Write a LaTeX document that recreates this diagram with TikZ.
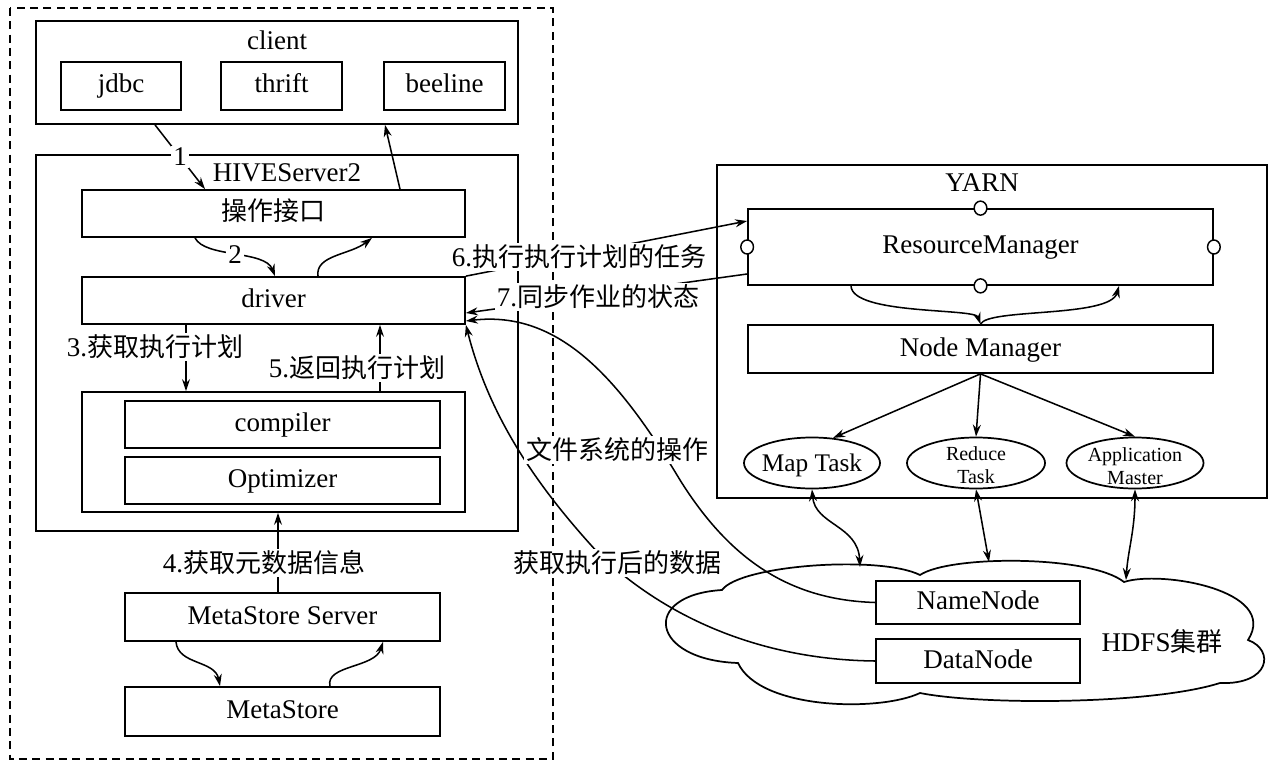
\documentclass[tikz,border=0pt]{standalone}
\usepackage{fontspec}
\setmainfont{Liberation Serif}
\newfontfamily\cjk{Noto Sans CJK SC}
\usetikzlibrary{arrows.meta,shapes.geometric}
\newcommand\zh[1]{{\cjk\fontsize{19.5pt}{23pt}\selectfont #1}}
\begin{document}
\begin{tikzpicture}[x=0.75pt,y=-0.75pt, line width=1.3pt,
  rbox/.style={draw, rectangle, inner sep=0pt, text height=13pt, text depth=2.5pt, font=\fontsize{20.25pt}{24pt}\selectfont},
  ell/.style={draw, ellipse, inner sep=0pt},
  txt/.style={inner sep=1pt, font=\fontsize{20.25pt}{24pt}\selectfont},
  lbl/.style={fill=white, inner sep=1.5pt, font=\fontsize{20.25pt}{24pt}\selectfont},
  arr/.style={-{Stealth[length=9pt,width=6pt]}, line width=1.15pt},
  darr/.style={{Stealth[length=9pt,width=6pt]}-{Stealth[length=9pt,width=6pt]}, line width=1.15pt},
  circ/.style={draw, fill=white, ellipse, inner sep=0pt, minimum width=9.5pt, minimum height=10.5pt, line width=1.1pt}
]
\useasboundingbox (0,0) rectangle (1280,773);
% outer dashed frame
\draw[dash pattern=on 6pt off 4pt] (10,8) rectangle (553,759);

% client
\node[rbox, minimum width=361.5pt, minimum height=77.25pt] (client) at (277,72.5) {};
\node[txt] (clientt) at (277,40) {client};
\node[rbox, minimum width=90pt, minimum height=36pt] (jdbc) at (121,86) {jdbc};
\node[rbox, minimum width=90.75pt, minimum height=36pt] (thrift) at (281.5,86) {thrift};
\node[rbox, minimum width=90.75pt, minimum height=36pt] (beeline) at (444.5,86) {beeline};

% HIVEServer2
\node[rbox, minimum width=361.5pt, minimum height=282pt] (hive) at (277,343) {};
\node[txt] (hivet) at (287,173) {HIVEServer2};
\node[rbox, minimum width=287.25pt, minimum height=35.25pt] (ops) at (273.5,213.5) {\zh{操作接口}};
\node[rbox, minimum width=287.25pt, minimum height=35.25pt] (driver) at (273.5,300.5) {driver};
\node[rbox, minimum width=287.25pt, minimum height=90pt] (comp) at (273.5,452) {};
\node[rbox, minimum width=236.25pt, minimum height=35.25pt] (compiler) at (282.5,424.5) {compiler};
\node[rbox, minimum width=236.25pt, minimum height=35.25pt] (optim) at (282.5,480.5) {Optimizer};

% metastore
\node[rbox, minimum width=236.25pt, minimum height=36pt] (mss) at (282.5,617) {MetaStore Server};
\node[rbox, minimum width=236.25pt, minimum height=36.75pt] (ms) at (282.5,711.5) {MetaStore};

% YARN
\node[rbox, minimum width=412.5pt, minimum height=249.75pt] (yarn) at (992,331.5) {};
\node[txt] (yarnt) at (982,183) {YARN};
\node[rbox, minimum width=348.75pt, minimum height=57pt] (rm) at (980.5,247) {ResourceManager};
\node[rbox, minimum width=348.75pt, minimum height=36pt] (nm) at (980.5,349) {Node Manager};
\node[circ] (c1) at (rm.north) {};
\node[circ] (c2) at (rm.south) {};
\node[circ] (c3) at (rm.west) {};
\node[circ] (c4) at (rm.east) {};
\node[ell, minimum width=102pt, minimum height=38.25pt] (map) at (812,463) {};
\node[inner sep=0pt, font=\fontsize{19pt}{22pt}\selectfont] (mapt) at (812,465) {Map Task};
\node[ell, minimum width=103.5pt, minimum height=38.25pt] (red) at (976,463) {};
\node[inner sep=0pt, align=center, font=\fontsize{15pt}{17.5pt}\selectfont] (redt) at (976,465) {Reduce\\Task};
\node[ell, minimum width=102.75pt, minimum height=38.25pt] (app) at (1135,463) {};
\node[inner sep=0pt, align=center, font=\fontsize{15pt}{17.5pt}\selectfont] (appt) at (1135,466) {Application\\Master};

% HDFS cloud
\draw (722,590) .. controls (740,565) and (880,555) .. (920,575)
  .. controls (950,555) and (1090,555) .. (1124,582)
  .. controls (1160,570) and (1280,590) .. (1248,640)
  .. controls (1275,650) and (1270,685) .. (1220,683)
  .. controls (1150,705) and (980,705) .. (920,693)
  .. controls (880,712) and (760,710) .. (738,663)
  .. controls (650,660) and (640,595) .. cycle;
\node[rbox, minimum width=153pt, minimum height=32.25pt] (nn) at (978,602.5) {NameNode};
\node[rbox, minimum width=153pt, minimum height=33pt] (dn) at (978,661) {DataNode};
\node[txt] (hdfs) at (1162,642) {HDFS\zh{集群}};
\coordinate (h1) at (860,567);
\coordinate (h2) at (989,562);
\coordinate (h3) at (1126,580);

% HIVE arrows
\draw[arr] (client.south -| 155,0) -- node[lbl, pos=0.5] {1} (ops.north -| 205,0);
\draw[arr] (ops.north -| 400,0) -- (client.south -| 385,0);
\draw[arr] (ops.south -| 195,0) .. controls (205,258) and (265,250) .. node[lbl, pos=0.5] {2} (driver.north -| 275,0);
\draw[arr] (driver.north -| 318,0) .. controls (315,255) and (350,255) .. (ops.south -| 372,0);
\draw[arr] (driver.south -| 186,0) -- (comp.north -| 186,0);
\draw[arr] (comp.north -| 380,0) -- (driver.south -| 380,0);
\draw[arr] (mss.north -| 278,0) -- (comp.south -| 278,0);
\draw[arr] (mss.south -| 176,0) .. controls (178,665) and (215,660) .. (ms.north -| 220,0);
\draw[arr] (ms.north -| 330,0) .. controls (325,665) and (375,668) .. (mss.south -| 383,0);

% YARN arrows
\draw[arr] (rm.south -| 851,0) .. controls (852,315) and (975,308) .. (nm.north);
\draw[arr] (nm.north) .. controls (988,308) and (1110,318) .. (rm.south -| 1119,0);
\draw[arr] (nm.south) -- (map.50);
\draw[arr] (nm.south) -- (red.north);
\draw[arr] (nm.south) -- (app.north);
\draw[darr] (map.south) .. controls (815,525) and (858,525) .. (h1);
\draw[darr] (red.south) -- (h2);
\draw[darr] (app.south) .. controls (1135,530) and (1128,550) .. (h3);

% cross connections
\draw[arr] (driver.north east) -- (rm.west |- 0,221);
\draw[arr] (rm.west |- 0,274) -- (driver.east |- 0,313);
\draw[arr] (nn.west) .. controls (790,600) and (730,560) .. (680,480) .. controls (620,380) and (560,310) .. (driver.east |- 0,321);
\draw[arr] (dn.west) .. controls (780,660) and (680,630) .. (600,555) .. controls (540,490) and (490,420) .. (driver.south east);

% labels
\node[lbl] (l3) at (155,347) {3.\zh{获取执行计划}};
\node[lbl] (l5) at (357,368) {5.\zh{返回执行计划}};
\node[lbl] (l4) at (264,563) {4.\zh{获取元数据信息}};
\node[lbl] (l6) at (579,257) {6.\zh{执行执行计划的任务}};
\node[lbl] (l7) at (598,297) {7.\zh{同步作业的状态}};
\node[lbl] (lf) at (617,450) {\zh{文件系统的操作}};
\node[lbl] (lg) at (617,563) {\zh{获取执行后的数据}};
\end{tikzpicture}
\end{document}
